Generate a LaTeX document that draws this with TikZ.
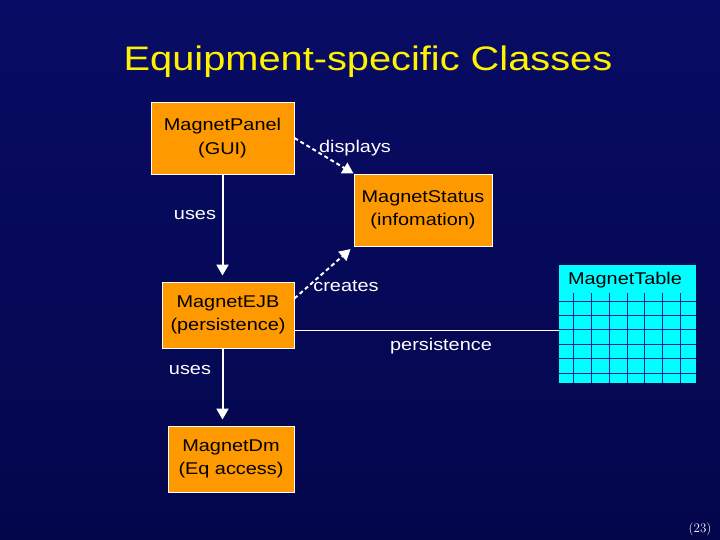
\documentclass[tikz,border=0pt]{standalone}
\usepackage{fontspec}
\newfontfamily\arialfont[FakeStretch=1.17]{Liberation Sans}
\usetikzlibrary{calc}
\usetikzlibrary{arrows.meta}

\definecolor{slidetop}{RGB}{8,12,100}
\definecolor{slidemid}{RGB}{22,52,182}
\definecolor{slidebot}{RGB}{4,6,76}
\definecolor{classorange}{RGB}{255,153,0}
\definecolor{tablecyan}{RGB}{0,255,255}
\definecolor{gridblue}{RGB}{30,30,150}

\tikzset{
  classbox/.style={draw=white, line width=0.9pt, fill=classorange, text=black,
    font=\arialfont\fontsize{17}{23.5}\selectfont, align=center, inner sep=0pt},
  lbl/.style={text=white, font=\arialfont\fontsize{17}{20}\selectfont},
  usesarrow/.style={white, line width=2pt, -{Triangle[width=12pt,length=11pt]}},
  dasharrow/.style={white, line width=2pt, dash pattern=on 4pt off 3pt,
    -{Triangle[width=12pt,length=11pt]}},
}

\begin{document}
\begin{tikzpicture}[x=1pt,y=-1pt]
  % Constants
  \pgfmathsetmacro\gridx{17.9}
  \pgfmathsetmacro\gridy{14.45}
  % Slide
  \useasboundingbox (0,0) rectangle (720,540);
  \shade[top color=slidetop, middle color=slidemid, bottom color=slidebot] (0,0) rectangle (720,540);
  % Title
  \node[anchor=base, text=yellow, font=\arialfont\fontsize{34}{40}\selectfont] (title) at (368,71) {Equipment-specific Classes};
  % Classes
  \node[classbox, minimum width=143pt, minimum height=72pt] (panel) at (222.5,138) {MagnetPanel\\(GUI)};
  \node[classbox, minimum width=138pt, minimum height=72pt] (status) at (423,210) {MagnetStatus\\(infomation)};
  \node[classbox, minimum width=132pt, minimum height=66pt] (ejb) at (228,315) {MagnetEJB\\(persistence)};
  \node[classbox, minimum width=126pt, minimum height=66pt] (dm) at (231,459) {MagnetDm\\(Eq access)};
  % Table
  \node[fill=tablecyan, minimum width=137pt, minimum height=118pt, inner sep=0pt] (table) at (627.5,324) {};
  \foreach \gx in {0,...,6}
    \draw[gridblue, line width=1pt] ({573.3+\gridx*\gx},293) -- ({573.3+\gridx*\gx},383);
  \foreach \gy in {0,...,5}
    \draw[gridblue, line width=1pt] (559,{301+\gridy*\gy}) -- (696,{301+\gridy*\gy});
  \node[text=black, font=\arialfont\fontsize{17}{20}\selectfont] (tabletitle) at (625,280) {MagnetTable};
  % Connectors
  \draw[usesarrow, shorten >=6pt] (panel.south) -- (panel.south |- ejb.north);
  \draw[usesarrow, shorten >=6pt] (panel.south |- ejb.south) -- (panel.south |- dm.north);
  \draw[dasharrow] (panel.east) -- (status.north west);
  \draw[dasharrow, shorten >=4pt] (ejb.14) -- (status.south west);
  \draw[white, line width=1pt] (ejb.-13) -- (ejb.-13 -| table.west);
  % Labels
  \node[lbl] (usesa) at (195,215) {uses};
  \node[lbl] (usesb) at (190,370) {uses};
  \node[lbl] (displays) at (355,148) {displays};
  \node[lbl] (creates) at (346,286) {creates};
  \node[lbl] (persist) at (441,346) {persistence};
  \node[text=white, font=\fontsize{13}{15}\selectfont] (pageno) at (700,529) {(23)};
\end{tikzpicture}
\end{document}
